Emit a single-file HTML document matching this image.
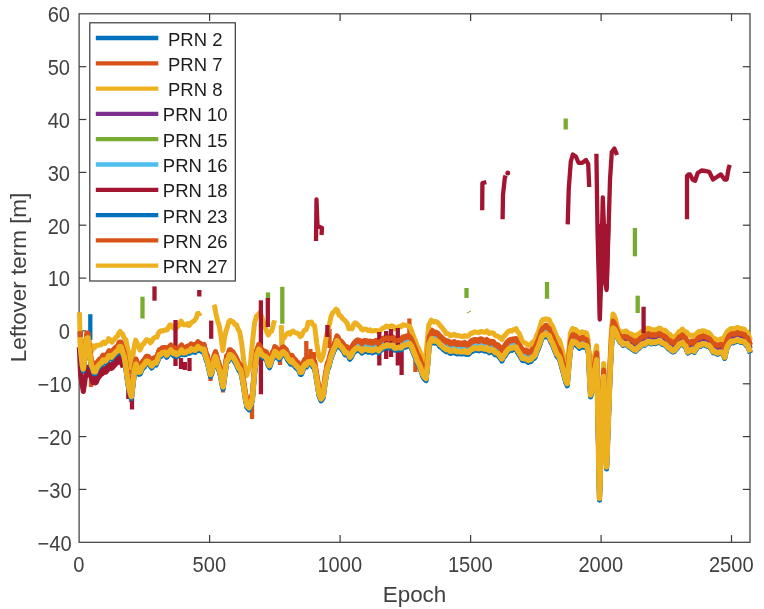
<!DOCTYPE html>
<html lang="en"><head><meta charset="utf-8"><title>Leftover term</title>
<style>html,body{margin:0;padding:0;background:#fff;}svg{display:block;}</style></head>
<body>
<svg width="764" height="609" viewBox="0 0 764 609" font-family="'Liberation Sans', Arial, Helvetica, sans-serif" fill="#404040">
<rect width="764" height="609" fill="#fff"/>
<rect x="79.1" y="13.8" width="670.9" height="528.5" fill="#fff" stroke="none"/>
<g stroke="#3a3a3a" stroke-width="1.2" fill="none"><rect x="79.1" y="13.8" width="670.9" height="528.5"/><line x1="209.6" y1="542.3" x2="209.6" y2="535.0999999999999"/><line x1="209.6" y1="13.8" x2="209.6" y2="21.0"/><line x1="340.1" y1="542.3" x2="340.1" y2="535.0999999999999"/><line x1="340.1" y1="13.8" x2="340.1" y2="21.0"/><line x1="470.6" y1="542.3" x2="470.6" y2="535.0999999999999"/><line x1="470.6" y1="13.8" x2="470.6" y2="21.0"/><line x1="601.1" y1="542.3" x2="601.1" y2="535.0999999999999"/><line x1="601.1" y1="13.8" x2="601.1" y2="21.0"/><line x1="731.5" y1="542.3" x2="731.5" y2="535.0999999999999"/><line x1="731.5" y1="13.8" x2="731.5" y2="21.0"/><line x1="79.1" y1="489.4" x2="86.3" y2="489.4"/><line x1="750.0" y1="489.4" x2="742.8" y2="489.4"/><line x1="79.1" y1="436.6" x2="86.3" y2="436.6"/><line x1="750.0" y1="436.6" x2="742.8" y2="436.6"/><line x1="79.1" y1="383.8" x2="86.3" y2="383.8"/><line x1="750.0" y1="383.8" x2="742.8" y2="383.8"/><line x1="79.1" y1="330.9" x2="86.3" y2="330.9"/><line x1="750.0" y1="330.9" x2="742.8" y2="330.9"/><line x1="79.1" y1="278.1" x2="86.3" y2="278.1"/><line x1="750.0" y1="278.1" x2="742.8" y2="278.1"/><line x1="79.1" y1="225.2" x2="86.3" y2="225.2"/><line x1="750.0" y1="225.2" x2="742.8" y2="225.2"/><line x1="79.1" y1="172.4" x2="86.3" y2="172.4"/><line x1="750.0" y1="172.4" x2="742.8" y2="172.4"/><line x1="79.1" y1="119.5" x2="86.3" y2="119.5"/><line x1="750.0" y1="119.5" x2="742.8" y2="119.5"/><line x1="79.1" y1="66.7" x2="86.3" y2="66.7"/><line x1="750.0" y1="66.7" x2="742.8" y2="66.7"/></g>
<g>
<polyline points="80.3,332.2 80.8,352.2 82.4,366.5 83.2,370.4 85.2,355.7 86.8,340.0 87.8,339.4 89.8,356.0 91.4,366.9 92.7,369.1 93.9,373.1 95.3,373.2 96.6,369.6 98.0,367.7 99.2,366.0 100.5,365.0 101.7,364.2 102.9,361.6 104.1,362.0 105.3,362.5 106.6,360.8 107.8,359.4 109.0,357.2 110.3,357.4 111.5,358.5 112.8,356.8 114.0,355.6 115.2,354.2 116.5,353.0 117.7,352.6 119.3,348.4 121.0,348.4 122.7,353.8 124.3,358.4 125.5,365.5 126.7,374.9 127.9,383.7 129.2,390.3 130.3,394.3 131.4,398.0 133.0,384.8 134.6,371.3 136.0,365.5 137.4,369.8 138.9,373.7 140.2,373.3 141.6,369.8 142.9,367.4 144.2,366.6 145.3,364.3 146.4,362.7 148.0,362.7 149.6,364.5 151.7,367.4 153.1,365.2 154.6,364.1 156.0,364.5 157.6,360.9 159.2,356.3 160.8,356.0 162.4,354.2 163.8,353.9 165.3,353.9 166.7,356.6 168.1,354.6 169.5,353.0 170.9,351.5 172.2,353.5 173.6,355.0 175.0,354.4 176.3,356.1 177.6,355.5 178.9,354.9 180.3,353.0 181.6,351.5 182.9,354.1 184.3,354.1 185.7,354.0 187.0,352.9 188.4,352.3 189.8,352.5 191.2,350.3 192.5,351.2 193.9,351.3 195.2,351.7 196.6,349.9 198.0,348.2 199.5,350.0 200.9,350.1 202.4,351.3 204.0,350.8 205.1,355.5 206.2,359.5 207.3,361.9 208.9,369.0 210.5,376.0 211.8,373.4 213.0,367.8 214.2,361.5 215.5,358.0 216.8,362.3 218.0,367.3 219.3,371.1 220.6,375.9 221.8,383.3 223.1,388.4 224.3,379.1 225.5,370.6 226.7,362.2 228.1,361.0 229.5,356.3 230.7,356.2 231.8,357.6 233.0,358.4 234.2,360.5 235.8,363.1 237.4,366.5 239.0,370.0 240.6,371.2 242.2,378.6 243.8,388.2 245.4,399.2 247.0,406.9 249.2,409.2 250.8,405.7 252.4,399.9 254.5,373.6 256.7,357.0 258.8,350.8 260.2,352.9 261.6,356.0 263.0,356.8 264.1,357.8 265.2,357.8 266.3,358.6 267.9,364.1 269.5,367.1 270.9,363.2 272.3,358.7 273.6,357.1 274.8,353.1 276.2,353.9 277.7,357.3 279.1,358.7 280.5,357.0 282.0,354.0 283.4,353.3 284.8,354.8 286.2,356.0 287.6,359.3 289.1,361.2 290.5,363.3 292.0,362.0 293.4,364.4 294.8,365.7 296.2,367.4 297.5,368.4 298.9,370.1 300.2,373.7 301.5,373.7 302.7,370.4 303.8,367.7 305.0,365.6 306.6,366.4 308.2,363.4 309.8,363.8 311.4,363.0 313.0,366.4 314.6,367.9 316.8,381.4 318.9,394.6 321.0,400.3 323.2,397.3 325.3,381.5 327.4,369.7 329.0,366.1 330.6,359.4 332.2,355.0 333.8,350.8 335.4,347.6 337.0,342.3 338.1,343.8 339.2,346.4 340.3,347.1 341.9,348.8 343.5,351.1 345.1,354.3 346.7,354.1 348.3,355.4 349.9,358.6 351.5,356.5 353.1,352.8 354.7,351.2 356.3,349.8 357.7,349.5 359.2,350.0 360.6,351.0 361.9,352.5 363.2,351.3 364.4,350.6 365.7,350.7 367.0,350.8 368.3,351.7 369.6,351.0 370.8,351.3 372.1,352.2 373.4,351.7 374.7,351.2 376.0,350.3 377.4,351.3 378.7,352.2 380.0,350.4 381.4,349.5 382.7,348.2 384.0,348.0 385.4,347.5 386.7,346.4 388.0,347.3 389.4,346.9 390.7,347.3 392.0,346.7 393.4,347.3 394.7,349.6 395.8,349.4 396.9,349.3 398.0,349.2 399.2,348.7 400.3,349.2 401.4,349.2 402.8,347.0 404.1,346.9 405.4,346.5 406.8,346.1 408.2,345.5 409.6,345.1 411.0,346.9 412.6,350.6 414.2,354.7 415.6,357.7 417.1,362.3 418.5,364.5 419.9,367.5 421.4,371.5 422.8,375.9 424.4,378.5 426.0,380.0 427.5,367.0 429.2,345.6 430.5,343.2 431.8,340.2 433.1,341.8 434.3,342.5 435.6,342.1 437.0,342.8 438.5,343.9 439.9,346.1 441.4,346.9 443.0,348.7 444.1,349.5 445.2,350.1 446.3,351.1 447.6,350.8 449.0,351.6 450.3,352.8 451.6,352.4 453.0,352.2 454.3,351.6 455.6,352.7 457.0,353.3 458.3,352.7 459.6,353.1 460.8,353.1 462.1,353.4 463.4,353.0 464.7,352.4 466.0,353.6 467.4,353.9 468.7,353.7 470.0,352.1 471.4,350.7 472.7,350.8 474.0,349.5 475.3,349.5 476.6,349.7 477.9,349.9 479.2,350.2 480.5,348.9 481.8,349.1 483.1,350.0 484.3,350.4 485.6,350.6 486.9,349.5 488.1,350.7 489.3,352.1 490.7,351.4 492.1,351.6 493.5,351.6 494.9,353.9 496.4,354.4 497.8,354.7 499.2,356.5 500.6,358.3 502.0,360.3 503.5,357.1 504.9,355.5 506.4,353.0 507.7,351.5 509.0,350.2 510.4,349.4 511.7,349.7 513.1,349.0 514.6,348.7 516.0,348.5 517.6,351.9 519.2,354.2 520.8,356.9 522.4,359.8 523.8,360.1 525.3,360.1 526.7,360.5 528.1,361.8 529.6,361.2 531.0,360.8 532.4,358.8 533.8,358.0 535.2,356.5 536.8,351.7 538.4,348.1 540.0,343.9 541.6,338.8 543.0,336.6 544.5,336.4 545.9,335.1 547.5,336.4 549.1,337.0 550.7,341.5 552.3,344.1 553.9,348.1 555.5,352.1 556.9,355.6 558.4,357.2 559.8,359.7 561.4,365.6 563.0,371.3 564.4,376.6 565.8,382.0 567.3,385.1 568.8,366.8 570.5,349.5 572.6,342.9 574.2,344.0 575.8,343.9 577.0,345.3 578.1,346.2 579.3,347.7 580.7,346.8 582.1,346.1 583.5,346.6 585.1,346.9 586.8,347.4 588.5,353.0 589.5,377.0 590.6,396.4 592.5,389.3 594.5,373.1 595.6,367.5 596.7,361.4 597.8,410.7 599.5,499.6 600.8,457.3 602.5,402.0 603.7,378.1 605.0,426.0 606.6,468.4 608.0,431.2 610.0,376.4 611.5,346.5 613.0,329.6 614.2,330.1 615.5,332.4 616.7,334.7 618.3,338.9 619.9,341.9 621.5,343.0 623.0,345.0 624.5,344.4 625.9,344.6 627.4,344.6 628.8,346.9 630.2,347.2 631.6,348.5 633.0,349.4 634.5,350.6 635.9,350.9 637.2,348.9 638.5,348.4 639.9,347.0 641.2,345.7 642.5,344.8 643.8,344.3 645.0,344.9 646.3,343.6 647.6,342.3 648.9,342.3 650.2,342.6 651.4,343.6 652.7,343.1 654.0,342.9 655.3,343.3 656.6,342.7 657.9,342.4 659.2,341.4 660.5,341.8 661.8,343.8 663.0,344.1 664.3,344.7 665.7,345.3 667.1,347.1 668.5,348.6 669.9,349.0 671.4,350.8 672.8,351.7 674.4,351.0 676.0,349.0 677.6,347.5 679.2,345.0 680.8,344.5 682.4,343.3 684.0,345.9 685.6,346.8 687.8,352.7 689.4,351.9 691.0,350.7 692.6,350.2 694.2,352.1 695.8,349.6 697.4,347.2 698.8,345.9 700.3,346.1 701.7,344.9 703.0,344.5 704.4,344.7 705.7,345.1 707.0,345.9 708.6,346.0 710.2,347.7 711.8,349.8 713.4,352.5 714.8,352.2 716.1,353.1 717.4,353.9 718.8,353.4 720.2,353.1 721.6,353.0 723.0,354.3 724.7,358.0 726.7,349.0 728.0,346.0 729.4,343.8 730.8,342.5 732.1,342.0 733.4,342.5 734.8,341.6 736.1,341.3 737.4,340.4 738.7,341.0 740.0,341.9 741.5,341.7 742.9,342.3 744.4,342.5 746.0,345.0 747.6,345.9 749.0,349.5 750.4,352.9" fill="none" stroke="#0072BD" stroke-width="5.0" stroke-linejoin="round" stroke-linecap="butt" />
<polyline points="90.3,314.2 90.3,340.0" fill="none" stroke="#0072BD" stroke-width="4.3" stroke-linejoin="round" stroke-linecap="butt" />
<polyline points="80.3,331.2 80.8,346.2 82.4,360.5 83.2,364.4 85.2,349.7 86.8,334.0 87.8,333.4 89.8,350.0 91.4,360.9 92.7,363.1 93.9,367.1 95.3,367.2 96.6,363.6 98.0,361.7 99.2,360.0 100.5,359.0 101.7,358.2 102.9,355.6 104.1,356.0 105.3,356.5 106.6,354.8 107.8,353.4 109.0,351.2 110.3,351.4 111.5,352.5 112.8,350.8 114.0,349.6 115.2,348.2 116.5,347.0 117.7,346.6 119.3,342.4 121.0,342.4 122.7,347.8 124.3,352.4 125.5,359.5 126.7,368.9 127.9,377.7 129.2,384.3 130.3,388.3 131.4,392.0 133.0,378.8 134.6,365.3 136.0,359.5 137.4,363.8 138.9,367.7 140.2,367.3 141.6,363.8 142.9,361.4 144.2,360.6 145.3,358.3 146.4,356.7 148.0,356.7 149.6,358.5 151.7,361.4 153.1,359.2 154.6,358.1 156.0,358.5 157.6,354.9 159.2,350.3 160.8,350.0 162.4,348.2 163.8,347.9 165.3,347.9 166.7,350.6 168.1,348.6 169.5,347.0 170.9,345.5 172.2,347.5 173.6,349.0 175.0,348.4 176.3,350.1 177.6,349.5 178.9,348.9 180.3,347.0 181.6,345.5 182.9,348.1 184.3,348.1 185.7,348.0 187.0,346.9 188.4,346.3 189.8,346.5 191.2,344.3 192.5,345.2 193.9,345.3 195.2,345.7 196.6,343.9 198.0,342.2 199.5,344.0 200.9,344.1 202.4,345.3 204.0,344.8 205.1,349.5 206.2,353.5 207.3,355.9 208.9,363.0 210.5,370.0 211.8,367.4 213.0,361.8 214.2,355.5 215.5,352.0 216.8,356.3 218.0,361.3 219.3,365.1 220.6,369.9 221.8,377.3 223.1,382.4 224.3,373.1 225.5,364.6 226.7,356.2 228.1,355.0 229.5,350.3 230.7,350.2 231.8,351.6 233.0,352.4 234.2,354.5 235.8,357.1 237.4,360.5 239.0,364.0 240.6,365.2 242.2,372.6 243.8,382.2 245.4,393.2 247.0,400.9 249.2,403.2 250.8,399.7 252.4,393.9 254.5,367.6 256.7,351.0 258.8,344.8 260.2,346.9 261.6,350.0 263.0,350.8 264.1,351.8 265.2,351.8 266.3,352.6 267.9,358.1 269.5,361.1 270.9,357.2 272.3,352.7 273.6,351.1 274.8,347.1 276.2,347.9 277.7,351.3 279.1,352.7 280.5,351.0 282.0,348.0 283.4,347.3 284.8,348.8 286.2,350.0 287.6,353.3 289.1,355.2 290.5,357.3 292.0,356.0 293.4,358.4 294.8,359.7 296.2,361.4 297.5,362.4 298.9,364.1 300.2,367.7 301.5,367.7 302.7,364.4 303.8,361.7 305.0,359.6 306.6,360.4 308.2,357.4 309.8,357.8 311.4,357.0 313.0,360.4 314.6,361.9 316.8,375.4 318.9,388.6 321.0,394.3 323.2,391.3 325.3,375.5 327.4,363.7 329.0,360.1 330.6,353.4 332.2,349.0 333.8,344.8 335.4,341.6 337.0,336.3 338.1,337.7 339.2,340.4 340.3,341.0 341.9,342.4 343.5,344.3 345.1,347.3 346.7,346.7 348.3,347.7 349.9,350.6 351.5,348.1 353.1,344.2 354.7,342.2 356.3,340.5 357.7,339.9 359.2,340.2 360.6,340.9 361.9,342.4 363.2,341.2 364.4,340.5 365.7,340.6 367.0,340.7 368.3,341.6 369.6,340.9 370.8,341.2 372.1,342.1 373.4,341.6 374.7,341.1 376.0,340.2 377.4,341.2 378.7,342.1 380.0,340.3 381.4,339.4 382.7,338.1 384.0,337.9 385.4,337.4 386.7,336.3 388.0,337.2 389.4,336.8 390.7,337.2 392.0,336.6 393.4,337.2 394.7,339.5 395.8,339.3 396.9,339.2 398.0,339.1 399.2,338.6 400.3,339.1 401.4,339.1 402.8,336.9 404.1,336.8 405.4,336.4 406.8,336.0 408.2,335.4 409.6,335.0 411.0,336.8 412.6,340.5 414.2,344.6 415.6,347.6 417.1,352.2 418.5,354.4 419.9,357.5 421.4,361.5 422.8,366.0 424.4,368.5 426.0,369.9 427.5,356.9 429.2,335.5 430.5,333.1 431.8,330.1 433.1,331.7 434.3,332.4 435.6,332.0 437.0,332.7 438.5,333.8 439.9,336.0 441.4,336.8 443.0,338.6 444.1,339.4 445.2,340.0 446.3,341.0 447.6,340.7 449.0,341.5 450.3,342.7 451.6,342.3 453.0,342.1 454.3,341.5 455.6,342.6 457.0,343.2 458.3,342.6 459.6,343.0 460.8,343.0 462.1,343.3 463.4,342.9 464.7,342.3 466.0,343.5 467.4,343.8 468.7,343.6 470.0,342.0 471.4,340.6 472.7,340.7 474.0,339.4 475.3,339.4 476.6,339.6 477.9,339.8 479.2,340.1 480.5,338.8 481.8,339.0 483.1,339.9 484.3,340.3 485.6,340.5 486.9,339.4 488.1,340.6 489.3,342.0 490.7,341.3 492.1,341.5 493.5,341.5 494.9,343.8 496.4,344.3 497.8,344.6 499.2,346.4 500.6,348.2 502.0,350.2 503.5,347.0 504.9,345.4 506.4,342.9 507.7,341.4 509.0,340.1 510.4,339.3 511.7,339.6 513.1,338.9 514.6,338.6 516.0,338.4 517.6,341.8 519.2,344.1 520.8,346.8 522.4,349.7 523.8,350.0 525.3,350.0 526.7,350.4 528.1,351.7 529.6,351.1 531.0,350.7 532.4,348.7 533.8,347.9 535.2,346.4 536.8,341.6 538.4,338.0 540.0,333.8 541.6,328.7 543.0,326.5 544.5,326.3 545.9,325.0 547.5,326.3 549.1,326.9 550.7,331.4 552.3,334.0 553.9,338.0 555.5,342.0 556.9,345.5 558.4,347.1 559.8,349.6 561.4,355.5 563.0,361.2 564.4,366.9 565.8,372.7 567.3,375.0 568.8,356.7 570.5,339.4 572.6,333.6 574.2,334.8 575.8,334.7 577.0,336.1 578.1,337.0 579.3,338.5 580.7,337.6 582.1,336.9 583.5,337.5 585.1,337.9 586.8,338.5 588.5,348.7 589.5,367.7 590.6,388.6 592.5,379.2 594.5,363.0 595.6,357.5 596.7,351.5 597.8,403.2 599.5,491.2 600.8,447.2 602.5,391.9 603.7,368.8 605.0,415.9 606.6,460.6 608.0,421.1 610.0,366.3 611.5,336.4 613.0,319.7 614.2,321.3 615.5,324.7 616.7,328.2 618.3,332.3 619.9,335.1 621.5,335.4 623.0,336.6 624.5,336.1 625.9,336.3 627.4,336.3 628.8,338.3 630.2,338.2 631.6,339.1 633.0,340.0 634.5,341.2 635.9,341.5 637.2,339.6 638.5,339.3 639.9,338.0 641.2,336.8 642.5,335.9 643.8,335.3 645.0,335.8 646.3,334.5 647.6,333.1 648.9,333.3 650.2,333.6 651.4,334.8 652.7,334.3 654.0,334.2 655.3,334.7 656.6,334.0 657.9,333.7 659.2,332.8 660.5,333.2 661.8,334.9 663.0,334.9 664.3,335.3 665.7,335.9 667.1,337.7 668.5,339.2 669.9,339.6 671.4,341.4 672.8,342.3 674.4,341.8 676.0,340.1 677.6,338.6 679.2,336.2 680.8,335.5 682.4,334.1 684.0,336.5 685.6,337.4 687.8,343.3 689.4,342.5 691.0,341.3 692.6,340.8 694.2,342.7 695.8,340.2 697.4,337.8 698.8,336.6 700.3,336.9 701.7,335.8 703.0,335.5 704.4,335.8 705.7,336.3 707.0,337.1 708.6,337.2 710.2,338.8 711.8,340.9 713.4,343.6 714.8,343.3 716.1,344.3 717.4,345.0 718.8,344.5 720.2,344.1 721.6,343.8 723.0,344.9 724.7,348.6 726.7,339.6 728.0,336.7 729.4,334.5 730.8,333.5 732.1,333.1 733.4,333.8 734.8,333.0 736.1,332.8 737.4,331.9 738.7,332.4 740.0,333.3 741.5,333.2 742.9,333.7 744.4,333.9 746.0,336.3 747.6,337.1 749.0,340.9 750.4,344.7" fill="none" stroke="#D95319" stroke-width="5.0" stroke-linejoin="round" stroke-linecap="butt" />
<polyline points="91.0,379.0 91.0,387.0" fill="none" stroke="#D95319" stroke-width="4.3" stroke-linejoin="round" stroke-linecap="butt" />
<polyline points="223.0,386.0 223.0,392.5" fill="none" stroke="#D95319" stroke-width="4.3" stroke-linejoin="round" stroke-linecap="butt" />
<polyline points="252.0,404.0 252.0,419.0" fill="none" stroke="#D95319" stroke-width="4.3" stroke-linejoin="round" stroke-linecap="butt" />
<polyline points="210.5,370.0 210.5,381.0" fill="none" stroke="#D95319" stroke-width="4.3" stroke-linejoin="round" stroke-linecap="butt" />
<polyline points="131.0,390.0 131.0,402.0" fill="none" stroke="#D95319" stroke-width="4.3" stroke-linejoin="round" stroke-linecap="butt" />
<polyline points="306.3,341.0 306.3,362.0" fill="none" stroke="#D95319" stroke-width="4.3" stroke-linejoin="round" stroke-linecap="butt" />
<polyline points="310.4,349.0 310.4,364.0" fill="none" stroke="#D95319" stroke-width="4.3" stroke-linejoin="round" stroke-linecap="butt" />
<polyline points="314.0,352.0 314.0,368.0" fill="none" stroke="#D95319" stroke-width="4.3" stroke-linejoin="round" stroke-linecap="butt" />
<polyline points="329.5,329.0 329.5,348.0" fill="none" stroke="#D95319" stroke-width="4.3" stroke-linejoin="round" stroke-linecap="butt" />
<polyline points="409.4,318.5 409.4,336.0" fill="none" stroke="#D95319" stroke-width="4.3" stroke-linejoin="round" stroke-linecap="butt" />
<polyline points="415.4,360.0 415.4,372.0" fill="none" stroke="#D95319" stroke-width="4.3" stroke-linejoin="round" stroke-linecap="butt" />
<polyline points="280.0,355.0 280.0,365.0" fill="none" stroke="#D95319" stroke-width="4.3" stroke-linejoin="round" stroke-linecap="butt" />
<polyline points="79.5,312.2 80.2,344.3 81.3,352.4 82.4,361.3 83.2,365.1 85.2,350.2 86.8,335.1 87.8,335.4 89.8,348.5 91.4,351.7 93.0,345.9 94.7,347.5 96.3,345.4 97.9,345.2 99.6,345.1 101.0,344.9 102.3,343.1 103.7,342.1 105.0,343.4 106.2,342.2 107.5,340.9 108.7,338.7 110.3,339.9 112.0,342.2 113.3,340.0 114.7,339.0 116.0,337.2 117.4,336.4 118.8,333.1 120.2,331.5 121.4,333.4 122.6,333.8 123.7,337.0 124.8,338.6 125.9,339.8 127.5,348.3 129.2,354.3 130.3,363.3 131.4,372.0 133.5,350.7 135.7,340.1 137.1,343.1 138.6,346.3 140.0,350.0 141.3,347.4 142.6,344.3 143.8,343.9 145.1,341.6 146.4,339.8 147.7,340.0 149.1,340.7 150.4,342.9 151.7,341.4 153.0,339.0 154.3,337.6 155.7,337.3 157.0,337.1 158.1,333.9 159.2,332.0 160.3,331.1 161.7,330.7 163.1,331.0 164.5,330.0 165.8,330.1 167.2,329.9 168.6,326.9 169.9,325.0 171.2,324.9 172.6,327.3 173.9,328.1 175.2,327.8 176.4,327.9 177.5,326.7 178.7,325.6 179.8,323.9 181.0,321.0 182.2,322.7 183.4,324.8 184.7,324.7 185.9,324.9 187.5,323.6 189.1,325.6 190.5,323.5 192.0,322.1 193.4,321.5 194.8,320.2 196.2,318.0 197.6,313.6 198.7,313.5 199.8,313.6 200.9,312.7" fill="none" stroke="#EDB120" stroke-width="5.0" stroke-linejoin="round" stroke-linecap="butt" />
<polyline points="213.7,304.9 214.7,306.7 215.8,312.7 216.9,318.0 218.1,322.6 219.3,325.9 221.0,336.6 222.8,350.4 224.6,337.4 226.0,331.1 227.5,326.5 228.9,321.6 230.3,320.4 231.8,321.4 233.2,321.9 234.8,324.6 236.4,324.7 238.0,329.2 239.6,331.7 241.7,343.4 243.8,361.1 245.2,370.0 246.6,375.5 247.8,372.2 249.1,368.2 250.3,365.4 252.4,342.7 254.5,322.9 256.7,315.7 258.1,314.6 259.6,312.8 261.0,314.9 262.4,319.0 263.8,323.4 265.2,327.0 266.8,331.9 268.4,335.0 270.0,331.8 271.6,331.2 273.0,326.3 274.4,320.3" fill="none" stroke="#EDB120" stroke-width="5.0" stroke-linejoin="round" stroke-linecap="butt" />
<polyline points="281.3,325.1 281.8,346.8 282.6,337.3 284.1,338.1 285.5,335.3 287.1,333.7 288.7,332.8 290.1,334.1 291.6,331.7 293.0,331.1 294.4,332.4 295.9,332.9 297.3,333.4 298.7,333.8 300.1,336.6 301.5,335.8 302.9,332.8 304.4,330.3 305.8,330.1 307.0,327.4 308.2,322.3 309.8,322.8 311.4,322.0 313.0,324.9 314.6,325.8 316.8,343.6 318.9,357.1 321.0,360.4 322.4,357.3 323.8,352.5 325.1,343.6 326.4,336.2 328.0,329.9 329.6,323.5 331.2,315.8 332.8,312.7 334.4,311.2 336.0,309.2 337.6,310.5 339.2,315.4 340.8,315.9 342.4,318.4 344.0,319.5 345.6,321.4 347.2,323.3 348.8,328.7 350.4,328.7 352.0,328.7 353.6,324.7 355.2,322.8 356.8,323.9 358.4,325.4 359.8,326.5 361.3,329.0 362.7,330.0 364.0,328.9 365.2,329.3 366.5,329.4 367.7,330.4 369.0,330.4 370.3,329.8 371.6,331.0 372.9,330.9 374.2,330.6 375.5,330.4 376.9,330.4 378.4,331.9 379.8,330.7 381.1,329.6 382.4,328.4 383.7,327.8 385.0,327.3 386.1,326.1 387.2,326.2 388.3,326.9 389.4,326.4 390.5,326.1 391.9,325.8 393.3,326.3 394.7,328.8 395.8,328.3 396.9,327.9 398.0,327.4 399.2,326.5 400.3,326.8 401.4,326.4 402.8,324.7 404.1,325.2 405.4,325.3 406.8,325.5 408.2,325.9 409.6,326.4 411.0,329.2 412.6,333.6 414.2,338.3 415.6,341.3 417.1,345.9 418.5,348.1 419.9,351.4 421.4,355.7 422.8,360.4 425.0,363.9 427.0,343.8 428.8,324.8 430.1,322.9 431.3,320.1 432.7,321.2 434.2,322.1 435.6,321.4 437.0,322.2 438.5,323.2 439.9,325.5 441.4,326.7 443.0,328.9 444.1,330.4 445.2,331.8 446.3,333.6 447.6,333.4 449.0,334.3 450.3,335.7 451.6,335.4 453.0,335.0 454.3,334.3 455.6,335.3 457.0,335.8 458.3,335.4 459.6,336.0 460.8,336.2 462.1,336.7 463.4,336.5 464.7,335.5 466.0,336.3 467.4,336.2 468.7,335.6 470.0,334.1 471.4,332.9 472.7,333.2 474.0,332.0 475.3,332.0 476.6,332.2 477.9,332.4 479.2,332.7 480.5,331.4 481.8,331.4 483.1,332.0 484.3,332.2 485.6,332.2 486.9,330.9 488.1,332.1 489.3,333.5 490.7,332.8 492.1,333.0 493.5,333.0 494.9,335.3 496.4,335.8 497.8,336.1 499.2,337.2 500.6,338.3 502.0,339.6 503.5,336.7 504.9,335.5 506.4,333.3 507.7,332.1 509.0,331.0 510.4,330.5 511.7,331.1 513.1,330.0 514.6,329.3 516.0,328.7 517.6,331.7 519.2,333.5 520.8,337.3 522.4,341.3 523.8,342.3 525.3,343.0 526.7,344.2 528.1,345.4 529.6,344.7 531.0,344.3 532.4,342.3 533.8,341.5 535.2,340.0 536.8,335.2 538.4,331.7 540.0,326.9 541.6,321.3 543.0,319.4 544.5,319.6 545.9,318.7 547.5,319.4 549.1,319.4 550.7,323.5 552.3,325.6 553.9,329.5 555.5,333.5 556.9,337.1 558.4,338.7 559.8,341.2 561.4,347.1 563.0,352.7 565.0,365.3 566.8,370.6 568.8,350.3 570.5,333.0 572.6,328.4 574.2,329.6 575.8,329.6 577.0,331.0 578.1,331.9 579.3,333.4 580.7,332.5 582.1,331.8 583.5,332.4 585.1,332.6 586.7,333.2 588.0,339.3 589.5,362.5 590.6,384.4 592.5,371.8 594.5,355.6 595.6,351.0 596.7,345.9 597.8,399.2 599.5,486.6 600.8,440.8 602.5,385.5 603.7,363.6 605.0,409.5 606.6,456.4 608.0,414.7 610.0,359.9 611.5,330.0 613.0,314.1 614.3,315.8 615.6,319.4 617.7,328.7 619.4,330.9 621.0,331.9 622.3,332.3 623.6,331.7 625.0,331.3 626.3,331.0 627.7,332.4 629.2,334.0 630.6,333.7 631.9,334.3 633.2,335.0 634.6,336.1 635.9,336.3 637.2,334.6 638.5,334.3 639.9,333.1 641.2,332.1 642.5,331.1 643.8,330.5 645.0,331.0 646.3,329.6 647.6,328.2 648.9,328.4 650.2,328.8 651.4,330.0 652.7,329.7 654.0,329.7 655.3,330.1 656.6,329.4 657.9,329.1 659.2,328.1 660.5,328.5 661.8,330.1 663.0,329.9 664.3,330.1 665.7,330.7 667.1,332.4 668.5,333.9 669.9,334.3 671.4,336.1 672.8,337.0 674.4,336.8 676.0,335.4 677.6,333.9 679.2,331.5 680.8,330.7 682.4,329.1 683.8,330.9 685.3,331.5 686.7,332.2 688.1,333.8 689.6,335.2 691.0,336.1 692.6,335.0 694.2,336.3 695.8,334.4 697.4,332.6 698.8,331.5 700.3,332.0 701.7,331.0 703.0,330.7 704.4,331.0 705.7,331.5 707.0,332.4 708.6,332.4 710.2,334.1 711.8,336.2 713.4,338.9 714.8,338.6 716.1,339.5 717.4,340.3 718.8,339.8 720.2,339.2 721.6,338.7 723.0,339.7 724.6,336.3 726.2,333.2 727.8,331.0 729.4,329.6 730.8,328.6 732.1,328.4 733.4,329.2 734.8,328.5 736.1,328.2 737.4,327.3 738.7,327.9 740.0,328.8 741.5,328.6 742.9,329.1 744.4,329.3 746.0,331.6 747.6,332.3 749.0,336.4 750.4,340.3" fill="none" stroke="#EDB120" stroke-width="5.0" stroke-linejoin="round" stroke-linecap="butt" />
<polyline points="80.3,332.2 80.8,349.7 82.4,364.0 83.2,367.9 85.2,353.2 86.8,337.5 87.8,336.9 89.8,353.5 91.4,364.4 92.7,366.6 93.9,370.6 95.3,370.7 96.6,367.1 98.0,365.2 99.2,363.5 100.5,362.5 101.7,361.7 102.9,359.1 104.1,359.5 105.3,360.0 106.6,358.3 107.8,356.9 109.0,354.7 110.3,354.9 111.5,356.0 112.8,354.3 114.0,353.1 115.2,351.7 116.5,350.5 117.7,350.1 119.3,345.9 121.0,345.9 122.7,351.3 124.3,355.9 125.5,363.0 126.7,372.4 127.9,381.2 129.2,387.8 130.3,391.8 131.4,395.5 133.0,382.3 134.6,368.8 136.0,363.0 137.4,367.3 138.9,371.2 140.2,370.8 141.6,367.3 142.9,364.9 144.2,364.1 145.3,361.8 146.4,360.2 148.0,360.2 149.6,362.0 151.7,364.9 153.1,362.7 154.6,361.6 156.0,362.0 157.6,358.4 159.2,353.8 160.8,353.5 162.4,351.7 163.8,351.4 165.3,351.4 166.7,354.1 168.1,352.1 169.5,350.5 170.9,349.0 172.2,351.0 173.6,352.5 175.0,351.9 176.3,353.6 177.6,353.0 178.9,352.4 180.3,350.5 181.6,349.0 182.9,351.6 184.3,351.6 185.7,351.5 187.0,350.4 188.4,349.8 189.8,350.0 191.2,347.8 192.5,348.7 193.9,348.8 195.2,349.2 196.6,347.4 198.0,345.7 199.5,347.5 200.9,347.6 202.4,348.8 204.0,348.3 205.1,353.0 206.2,357.0 207.3,359.4 208.9,366.5 210.5,373.5 211.8,370.9 213.0,365.3 214.2,359.0 215.5,355.5 216.8,359.8 218.0,364.8 219.3,368.6 220.6,373.4 221.8,380.8 223.1,385.9 224.3,376.6 225.5,368.1 226.7,359.7 228.1,358.5 229.5,353.8 230.7,353.7 231.8,355.1 233.0,355.9 234.2,358.0 235.8,360.6 237.4,364.0 239.0,367.5 240.6,368.7 242.2,376.1 243.8,385.7 245.4,396.7 247.0,404.4 249.2,406.7 250.8,403.2 252.4,397.4 254.5,371.1 256.7,354.5 258.8,348.3 260.2,350.4 261.6,353.5 263.0,354.3 264.1,355.3 265.2,355.3 266.3,356.1 267.9,361.6 269.5,364.6 270.9,360.7 272.3,356.2 273.6,354.6 274.8,350.6 276.2,351.4 277.7,354.8 279.1,356.2 280.5,354.5 282.0,351.5 283.4,350.8 284.8,352.3 286.2,353.5 287.6,356.8 289.1,358.7 290.5,360.8 292.0,359.5 293.4,361.9 294.8,363.2 296.2,364.9 297.5,365.9 298.9,367.6 300.2,371.2 301.5,371.2 302.7,367.9 303.8,365.2 305.0,363.1 306.6,363.9 308.2,360.9 309.8,361.3 311.4,360.5 313.0,363.9 314.6,365.4 316.8,378.9 318.9,392.1 321.0,397.8 323.2,394.8 325.3,379.0 327.4,367.2 329.0,363.6 330.6,356.9 332.2,352.5 333.8,348.3 335.4,345.1 337.0,339.8 338.1,341.3 339.2,343.9 340.3,344.6 341.9,346.2 343.5,348.4 345.1,351.6 346.7,351.3 348.3,352.6 349.9,355.7 351.5,353.5 353.1,349.8 354.7,348.1 356.3,346.6 357.7,346.2 359.2,346.7 360.6,347.6 361.9,349.1 363.2,347.9 364.4,347.2 365.7,347.3 367.0,347.4 368.3,348.3 369.6,347.6 370.8,347.9 372.1,348.8 373.4,348.3 374.7,347.8 376.0,346.9 377.4,347.9 378.7,348.8 380.0,347.0 381.4,346.1 382.7,344.8 384.0,344.6 385.4,344.1 386.7,343.0 388.0,343.9 389.4,343.5 390.7,343.9 392.0,343.3 393.4,343.9 394.7,346.2 395.8,346.0 396.9,345.9 398.0,345.8 399.2,345.3 400.3,345.8 401.4,345.8 402.8,343.6 404.1,343.5 405.4,343.1 406.8,342.7 408.2,342.1 409.6,341.7 411.0,343.5 412.6,347.2 414.2,351.3 415.6,354.3 417.1,358.9 418.5,361.1 419.9,364.1 421.4,368.1 422.8,372.5 424.4,375.1 426.0,376.6 427.5,363.6 429.2,342.2 430.5,339.8 431.8,336.8 433.1,338.4 434.3,339.1 435.6,338.7 437.0,339.4 438.5,340.5 439.9,342.7 441.4,343.5 443.0,345.3 444.1,346.1 445.2,346.7 446.3,347.7 447.6,347.4 449.0,348.2 450.3,349.4 451.6,349.0 453.0,348.8 454.3,348.2 455.6,349.3 457.0,349.9 458.3,349.3 459.6,349.7 460.8,349.7 462.1,350.0 463.4,349.6 464.7,349.0 466.0,350.2 467.4,350.5 468.7,350.3 470.0,348.7 471.4,347.3 472.7,347.4 474.0,346.1 475.3,346.1 476.6,346.3 477.9,346.5 479.2,346.8 480.5,345.5 481.8,345.7 483.1,346.6 484.3,347.0 485.6,347.2 486.9,346.1 488.1,347.3 489.3,348.7 490.7,348.0 492.1,348.2 493.5,348.2 494.9,350.5 496.4,351.0 497.8,351.3 499.2,353.1 500.6,354.9 502.0,356.9 503.5,353.7 504.9,352.1 506.4,349.6 507.7,348.1 509.0,346.8 510.4,346.0 511.7,346.3 513.1,345.6 514.6,345.3 516.0,345.1 517.6,348.5 519.2,350.8 520.8,353.5 522.4,356.4 523.8,356.7 525.3,356.7 526.7,357.1 528.1,358.4 529.6,357.8 531.0,357.4 532.4,355.4 533.8,354.6 535.2,353.1 536.8,348.3 538.4,344.7 540.0,340.5 541.6,335.4 543.0,333.2 544.5,333.0 545.9,331.7 547.5,333.0 549.1,333.6 550.7,338.1 552.3,340.7 553.9,344.7 555.5,348.7 556.9,352.2 558.4,353.8 559.8,356.3 561.4,362.2 563.0,367.9 564.4,373.2 565.8,378.6 567.3,381.7 568.8,363.4 570.5,346.1 572.6,339.5 574.2,340.6 575.8,340.5 577.0,341.9 578.1,342.8 579.3,344.3 580.7,343.4 582.1,342.7 583.5,343.2 585.1,343.5 586.8,344.0 588.5,350.1 589.5,373.6 590.6,393.0 592.5,385.9 594.5,369.7 595.6,364.1 596.7,358.0 597.8,407.3 599.5,496.2 600.8,453.9 602.5,398.6 603.7,374.7 605.0,422.6 606.6,465.0 608.0,427.8 610.0,373.0 611.5,343.1 613.0,326.2 614.2,326.9 615.5,329.4 616.7,332.0 618.3,336.2 619.9,339.2 621.5,339.4 623.0,340.6 624.5,340.0 625.9,340.2 627.4,340.3 628.8,342.5 630.2,342.7 631.6,343.8 633.0,344.7 634.5,345.9 635.9,346.2 637.2,344.2 638.5,343.8 639.9,342.3 641.2,341.0 642.5,340.2 643.8,339.6 645.0,340.2 646.3,338.9 647.6,337.6 648.9,337.7 650.2,338.0 651.4,339.0 652.7,338.5 654.0,338.3 655.3,338.8 656.6,338.1 657.9,337.8 659.2,336.9 660.5,337.3 661.8,339.2 663.0,339.5 664.3,340.0 665.7,340.6 667.1,342.4 668.5,343.9 669.9,344.3 671.4,346.1 672.8,347.0 674.4,346.3 676.0,344.3 677.6,342.8 679.2,340.4 680.8,339.9 682.4,338.6 684.0,341.2 685.6,342.1 687.8,348.0 689.4,347.2 691.0,346.0 692.6,345.5 694.2,347.4 695.8,344.9 697.4,342.5 698.8,341.2 700.3,341.4 701.7,340.2 703.0,339.8 704.4,340.0 705.7,340.5 707.0,341.3 708.6,341.4 710.2,343.0 711.8,345.1 713.4,347.9 714.8,347.5 716.1,348.5 717.4,349.2 718.8,348.7 720.2,348.5 721.6,348.3 723.0,349.6 724.7,353.3 726.7,344.3 728.0,341.3 729.4,339.1 730.8,337.9 732.1,337.4 733.4,338.0 734.8,337.1 736.1,336.8 737.4,336.0 738.7,336.5 740.0,337.4 741.5,337.2 742.9,337.8 744.4,337.9 746.0,340.4 747.6,341.3 749.0,345.0 750.4,348.5" fill="none" stroke="#7E2F8E" stroke-width="5.0" stroke-linejoin="round" stroke-linecap="butt" />
<polyline points="142.5,296.7 142.5,318.5" fill="none" stroke="#77AC30" stroke-width="4.3" stroke-linejoin="round" stroke-linecap="butt" />
<polyline points="268.0,292.4 268.0,300.0" fill="none" stroke="#77AC30" stroke-width="4.3" stroke-linejoin="round" stroke-linecap="butt" />
<polyline points="282.3,286.8 282.3,323.8" fill="none" stroke="#77AC30" stroke-width="4.3" stroke-linejoin="round" stroke-linecap="butt" />
<polyline points="466.5,288.0 466.5,298.0" fill="none" stroke="#77AC30" stroke-width="4.3" stroke-linejoin="round" stroke-linecap="butt" />
<polyline points="547.0,282.0 547.0,298.8" fill="none" stroke="#77AC30" stroke-width="4.3" stroke-linejoin="round" stroke-linecap="butt" />
<polyline points="565.7,118.5 565.7,129.5" fill="none" stroke="#77AC30" stroke-width="4.3" stroke-linejoin="round" stroke-linecap="butt" />
<polyline points="634.9,228.0 634.9,256.3" fill="none" stroke="#77AC30" stroke-width="4.3" stroke-linejoin="round" stroke-linecap="butt" />
<polyline points="637.7,295.7 637.7,313.0" fill="none" stroke="#77AC30" stroke-width="4.3" stroke-linejoin="round" stroke-linecap="butt" />
<polyline points="467.0,313.0 471.0,311.0" fill="none" stroke="#77AC30" stroke-width="1" stroke-linejoin="round" stroke-linecap="butt" />
<polyline points="80.3,332.2 80.8,350.2 82.4,364.5 83.2,368.4 85.2,353.7 86.8,338.0 87.8,337.4 89.8,354.0 91.4,364.9 92.7,367.1 93.9,371.1 95.3,371.2 96.6,367.6 98.0,365.7 99.2,364.0 100.5,363.0 101.7,362.2 102.9,359.6 104.1,360.0 105.3,360.5 106.6,358.8 107.8,357.4 109.0,355.2 110.3,355.4 111.5,356.5 112.8,354.8 114.0,353.6 115.2,352.2 116.5,351.0 117.7,350.6 119.3,346.4 121.0,346.4 122.7,351.8 124.3,356.4 125.5,363.5 126.7,372.9 127.9,381.7 129.2,388.3 130.3,392.3 131.4,396.0 133.0,382.8 134.6,369.3 136.0,363.5 137.4,367.8 138.9,371.7 140.2,371.3 141.6,367.8 142.9,365.4 144.2,364.6 145.3,362.3 146.4,360.7 148.0,360.7 149.6,362.5 151.7,365.4 153.1,363.2 154.6,362.1 156.0,362.5 157.6,358.9 159.2,354.3 160.8,354.0 162.4,352.2 163.8,351.9 165.3,351.9 166.7,354.6 168.1,352.6 169.5,351.0 170.9,349.5 172.2,351.5 173.6,353.0 175.0,352.4 176.3,354.1 177.6,353.5 178.9,352.9 180.3,351.0 181.6,349.5 182.9,352.1 184.3,352.1 185.7,352.0 187.0,350.9 188.4,350.3 189.8,350.5 191.2,348.3 192.5,349.2 193.9,349.3 195.2,349.7 196.6,347.9 198.0,346.2 199.5,348.0 200.9,348.1 202.4,349.3 204.0,348.8 205.1,353.5 206.2,357.5 207.3,359.9 208.9,367.0 210.5,374.0 211.8,371.4 213.0,365.8 214.2,359.5 215.5,356.0 216.8,360.3 218.0,365.3 219.3,369.1 220.6,373.9 221.8,381.3 223.1,386.4 224.3,377.1 225.5,368.6 226.7,360.2 228.1,359.0 229.5,354.3 230.7,354.2 231.8,355.6 233.0,356.4 234.2,358.5 235.8,361.1 237.4,364.5 239.0,368.0 240.6,369.2 242.2,376.6 243.8,386.2 245.4,397.2 247.0,404.9 249.2,407.2 250.8,403.7 252.4,397.9 254.5,371.6 256.7,355.0 258.8,348.8 260.2,350.9 261.6,354.0 263.0,354.8 264.1,355.8 265.2,355.8 266.3,356.6 267.9,362.1 269.5,365.1 270.9,361.2 272.3,356.7 273.6,355.1 274.8,351.1 276.2,351.9 277.7,355.3 279.1,356.7 280.5,355.0 282.0,352.0 283.4,351.3 284.8,352.8 286.2,354.0 287.6,357.3 289.1,359.2 290.5,361.3 292.0,360.0 293.4,362.4 294.8,363.7 296.2,365.4 297.5,366.4 298.9,368.1 300.2,371.7 301.5,371.7 302.7,368.4 303.8,365.7 305.0,363.6 306.6,364.4 308.2,361.4 309.8,361.8 311.4,361.0 313.0,364.4 314.6,365.9 316.8,379.4 318.9,392.6 321.0,398.3 323.2,395.3 325.3,379.5 327.4,367.7 329.0,364.1 330.6,357.4 332.2,353.0 333.8,348.8 335.4,345.6 337.0,340.3 338.1,341.8 339.2,344.4 340.3,345.1 341.9,346.6 343.5,348.7 345.1,351.8 346.7,351.5 348.3,352.7 349.9,355.7 351.5,353.4 353.1,349.6 354.7,347.8 356.3,346.3 357.7,345.8 359.2,346.3 360.6,347.1 361.9,348.6 363.2,347.4 364.4,346.7 365.7,346.8 367.0,346.9 368.3,347.8 369.6,347.1 370.8,347.4 372.1,348.3 373.4,347.8 374.7,347.3 376.0,346.4 377.4,347.4 378.7,348.3 380.0,346.5 381.4,345.6 382.7,344.3 384.0,344.1 385.4,343.6 386.7,342.5 388.0,343.4 389.4,343.0 390.7,343.4 392.0,342.8 393.4,343.4 394.7,345.7 395.8,345.5 396.9,345.4 398.0,345.3 399.2,344.8 400.3,345.3 401.4,345.3 402.8,343.1 404.1,343.0 405.4,342.6 406.8,342.2 408.2,341.6 409.6,341.2 411.0,343.0 412.6,346.7 414.2,350.8 415.6,353.8 417.1,358.4 418.5,360.6 419.9,363.6 421.4,367.6 422.8,372.1 424.4,374.6 426.0,376.1 427.5,363.1 429.2,341.7 430.5,339.3 431.8,336.3 433.1,337.9 434.3,338.6 435.6,338.2 437.0,338.9 438.5,340.0 439.9,342.2 441.4,343.0 443.0,344.8 444.1,345.6 445.2,346.2 446.3,347.2 447.6,346.9 449.0,347.7 450.3,348.9 451.6,348.5 453.0,348.3 454.3,347.7 455.6,348.8 457.0,349.4 458.3,348.8 459.6,349.2 460.8,349.2 462.1,349.5 463.4,349.1 464.7,348.5 466.0,349.7 467.4,350.0 468.7,349.8 470.0,348.2 471.4,346.8 472.7,346.9 474.0,345.6 475.3,345.6 476.6,345.8 477.9,346.0 479.2,346.3 480.5,345.0 481.8,345.2 483.1,346.1 484.3,346.5 485.6,346.7 486.9,345.6 488.1,346.8 489.3,348.2 490.7,347.5 492.1,347.7 493.5,347.7 494.9,350.0 496.4,350.5 497.8,350.8 499.2,352.6 500.6,354.4 502.0,356.4 503.5,353.2 504.9,351.6 506.4,349.1 507.7,347.6 509.0,346.3 510.4,345.5 511.7,345.8 513.1,345.1 514.6,344.8 516.0,344.6 517.6,348.0 519.2,350.3 520.8,353.0 522.4,355.9 523.8,356.2 525.3,356.2 526.7,356.6 528.1,357.9 529.6,357.3 531.0,356.9 532.4,354.9 533.8,354.1 535.2,352.6 536.8,347.8 538.4,344.2 540.0,340.0 541.6,334.9 543.0,332.7 544.5,332.5 545.9,331.2 547.5,332.5 549.1,333.1 550.7,337.6 552.3,340.2 553.9,344.2 555.5,348.2 556.9,351.7 558.4,353.3 559.8,355.8 561.4,361.7 563.0,367.4 564.4,372.8 565.8,378.3 567.3,381.2 568.8,362.9 570.5,345.6 572.6,339.1 574.2,340.3 575.8,340.2 577.0,341.6 578.1,342.5 579.3,344.0 580.7,343.1 582.1,342.4 583.5,342.9 585.1,343.2 586.8,343.8 588.5,350.7 589.5,373.3 590.6,393.2 592.5,385.4 594.5,369.2 595.6,363.6 596.7,357.5 597.8,407.5 599.5,496.1 600.8,453.4 602.5,398.1 603.7,374.4 605.0,422.1 606.6,465.1 608.0,427.3 610.0,372.5 611.5,342.6 613.0,325.7 614.2,326.7 615.5,329.5 616.7,332.3 618.3,336.5 619.9,339.4 621.5,341.2 623.0,343.9 624.5,343.3 625.9,343.5 627.4,343.5 628.8,345.8 630.2,346.1 631.6,347.4 633.0,348.3 634.5,349.5 635.9,349.8 637.2,347.8 638.5,347.3 639.9,345.9 641.2,344.6 642.5,343.7 643.8,343.2 645.0,343.8 646.3,342.5 647.6,341.2 648.9,341.2 650.2,341.5 651.4,342.5 652.7,342.0 654.0,341.8 655.3,342.2 656.6,341.6 657.9,341.3 659.2,340.3 660.5,340.7 661.8,342.7 663.0,343.0 664.3,343.6 665.7,344.2 667.1,346.0 668.5,347.5 669.9,347.9 671.4,349.7 672.8,350.6 674.4,349.9 676.0,347.9 677.6,346.4 679.2,343.9 680.8,343.4 682.4,342.2 684.0,344.8 685.6,345.7 687.8,351.6 689.4,350.8 691.0,349.6 692.6,349.1 694.2,351.0 695.8,348.5 697.4,346.1 698.8,344.8 700.3,345.0 701.7,343.8 703.0,343.4 704.4,343.6 705.7,344.0 707.0,344.8 708.6,344.9 710.2,346.6 711.8,348.7 713.4,351.4 714.8,351.1 716.1,352.0 717.4,352.8 718.8,352.3 720.2,352.0 721.6,351.9 723.0,353.2 724.7,356.9 726.7,347.9 728.0,344.9 729.4,342.7 730.8,341.4 732.1,340.9 733.4,341.4 734.8,340.5 736.1,340.2 737.4,339.3 738.7,339.9 740.0,340.8 741.5,340.6 742.9,341.2 744.4,341.4 746.0,343.9 747.6,344.8 749.0,348.4 750.4,351.8" fill="none" stroke="#4DBEEE" stroke-width="5.0" stroke-linejoin="round" stroke-linecap="butt" />
<polyline points="79.3,347.2 80.5,373.9 81.9,383.0 83.3,391.6 84.4,384.6 85.5,377.0 87.5,365.9" fill="none" stroke="#A2142F" stroke-width="5.0" stroke-linejoin="round" stroke-linecap="butt" />
<polyline points="89.8,364.5 91.4,375.4 92.7,377.6 93.9,381.6 95.3,381.7 96.6,378.1 98.0,376.2 99.2,374.5 100.5,373.5 101.7,372.7 102.9,370.1 104.1,370.5 105.3,371.0 106.6,369.3 107.8,367.9 109.0,365.7 110.3,365.9 111.5,367.0 112.8,365.3 114.0,364.1 115.2,362.7 116.5,361.5 117.7,361.1 119.3,356.9 121.0,356.9 122.7,362.3 124.3,366.9" fill="none" stroke="#A2142F" stroke-width="7.5" stroke-linejoin="round" stroke-linecap="butt" />
<polyline points="128.3,370.0 128.3,399.0" fill="none" stroke="#A2142F" stroke-width="4.3" stroke-linejoin="round" stroke-linecap="butt" />
<polyline points="132.0,392.0 132.0,409.5" fill="none" stroke="#A2142F" stroke-width="4.3" stroke-linejoin="round" stroke-linecap="butt" />
<polyline points="154.5,286.4 154.5,300.7" fill="none" stroke="#A2142F" stroke-width="4.3" stroke-linejoin="round" stroke-linecap="butt" />
<polyline points="199.3,290.0 199.3,296.5" fill="none" stroke="#A2142F" stroke-width="4.3" stroke-linejoin="round" stroke-linecap="butt" />
<polyline points="175.5,320.0 175.5,366.0" fill="none" stroke="#A2142F" stroke-width="4.3" stroke-linejoin="round" stroke-linecap="butt" />
<polyline points="181.0,358.0 181.0,369.0" fill="none" stroke="#A2142F" stroke-width="4.3" stroke-linejoin="round" stroke-linecap="butt" />
<polyline points="184.8,362.0 184.8,370.0" fill="none" stroke="#A2142F" stroke-width="4.3" stroke-linejoin="round" stroke-linecap="butt" />
<polyline points="189.5,358.0 189.5,371.0" fill="none" stroke="#A2142F" stroke-width="4.3" stroke-linejoin="round" stroke-linecap="butt" />
<polyline points="211.2,320.6 211.2,338.8" fill="none" stroke="#A2142F" stroke-width="4.3" stroke-linejoin="round" stroke-linecap="butt" />
<polyline points="260.9,300.3 260.9,394.3" fill="none" stroke="#A2142F" stroke-width="4.3" stroke-linejoin="round" stroke-linecap="butt" />
<polyline points="267.8,298.0 267.8,327.0" fill="none" stroke="#A2142F" stroke-width="4.3" stroke-linejoin="round" stroke-linecap="butt" />
<polyline points="327.4,325.0 327.4,337.0" fill="none" stroke="#A2142F" stroke-width="4.3" stroke-linejoin="round" stroke-linecap="butt" />
<polyline points="379.3,332.0 379.3,365.5" fill="none" stroke="#A2142F" stroke-width="4.3" stroke-linejoin="round" stroke-linecap="butt" />
<polyline points="386.2,331.0 386.2,359.0" fill="none" stroke="#A2142F" stroke-width="4.3" stroke-linejoin="round" stroke-linecap="butt" />
<polyline points="391.0,329.0 391.0,357.0" fill="none" stroke="#A2142F" stroke-width="4.3" stroke-linejoin="round" stroke-linecap="butt" />
<polyline points="397.8,328.0 397.8,365.5" fill="none" stroke="#A2142F" stroke-width="4.3" stroke-linejoin="round" stroke-linecap="butt" />
<polyline points="401.6,350.5 401.6,375.0" fill="none" stroke="#A2142F" stroke-width="4.3" stroke-linejoin="round" stroke-linecap="butt" />
<polyline points="643.6,306.7 643.6,333.4" fill="none" stroke="#A2142F" stroke-width="4.3" stroke-linejoin="round" stroke-linecap="butt" />
<polyline points="316.0,241.0 316.5,199.5 317.5,226.0 322.0,228.0 321.5,235.0" fill="none" stroke="#A2142F" stroke-width="4.3" stroke-linejoin="round" stroke-linecap="butt" />
<polyline points="482.2,210.3 482.4,183.0 486.3,182.2" fill="none" stroke="#A2142F" stroke-width="4.3" stroke-linejoin="round" stroke-linecap="butt" />
<polyline points="502.6,219.2 503.0,195.0 504.8,178.0 505.6,175.5" fill="none" stroke="#A2142F" stroke-width="4.3" stroke-linejoin="round" stroke-linecap="butt" />
<circle cx="507.8" cy="173" r="2.5" fill="#A2142F"/>
<polyline points="567.7,224.4 568.7,189.7 570.8,161.5 572.8,154.5 575.9,156.5 578.5,162.8 582.3,162.8 586.0,160.0 588.2,164.0 589.2,187.0" fill="none" stroke="#A2142F" stroke-width="4.3" stroke-linejoin="round" stroke-linecap="butt" />
<polyline points="596.4,153.8 597.5,230.0 599.8,319.5 601.5,250.0 602.8,197.4 604.5,240.0 606.6,290.0 608.5,230.0 610.0,180.0 611.8,152.0 614.4,148.5 617.0,155.0" fill="none" stroke="#A2142F" stroke-width="4.3" stroke-linejoin="round" stroke-linecap="butt" />
<polyline points="687.0,219.2 687.0,176.0 688.5,174.4 690.0,174.4 692.6,179.5 695.1,180.8 697.7,173.0 701.5,170.5 705.4,171.0 709.2,171.8 713.0,179.5 716.9,177.0 720.8,174.4 724.6,179.5 726.7,179.5 728.5,169.2 729.7,164.9" fill="none" stroke="#A2142F" stroke-width="4.3" stroke-linejoin="round" stroke-linecap="butt" />
<polygon points="596.2,224 610.5,224 608.8,288.5 604.7,290.5 603.4,284 602.3,300 602,319 599.9,321 597.9,319" fill="#A2142F"/>
<polyline points="80.3,332.2 80.8,352.9 82.4,367.2 83.2,371.1 85.2,356.4 86.8,340.7 87.8,340.1 89.8,356.7 91.4,367.6 92.7,369.8 93.9,373.8 95.3,373.9 96.6,370.3 98.0,368.4 99.2,366.7 100.5,365.7 101.7,364.9 102.9,362.3 104.1,362.7 105.3,363.2 106.6,361.5 107.8,360.1 109.0,357.9 110.3,358.1 111.5,359.2 112.8,357.5 114.0,356.3 115.2,354.9 116.5,353.7 117.7,353.3 119.3,349.1 121.0,349.1 122.7,354.5 124.3,359.1 125.5,366.2 126.7,375.6 127.9,384.4 129.2,391.0 130.3,395.0 131.4,398.7 133.0,385.5 134.6,372.0 136.0,366.2 137.4,370.5 138.9,374.4 140.2,374.0 141.6,370.5 142.9,368.1 144.2,367.3 145.3,365.0 146.4,363.4 148.0,363.4 149.6,365.2 151.7,368.1 153.1,365.9 154.6,364.8 156.0,365.2 157.6,361.6 159.2,357.0 160.8,356.7 162.4,354.9 163.8,354.6 165.3,354.6 166.7,357.3 168.1,355.3 169.5,353.7 170.9,352.2 172.2,354.2 173.6,355.7 175.0,355.1 176.3,356.8 177.6,356.2 178.9,355.6 180.3,353.7 181.6,352.2 182.9,354.8 184.3,354.8 185.7,354.7 187.0,353.6 188.4,353.0 189.8,353.2 191.2,351.0 192.5,351.9 193.9,352.0 195.2,352.4 196.6,350.6 198.0,348.9 199.5,350.7 200.9,350.8 202.4,352.0 204.0,351.5 205.1,356.2 206.2,360.2 207.3,362.6 208.9,369.7 210.5,376.7 211.8,374.1 213.0,368.5 214.2,362.2 215.5,358.7 216.8,363.0 218.0,368.0 219.3,371.8 220.6,376.6 221.8,384.0 223.1,389.1 224.3,379.8 225.5,371.3 226.7,362.9 228.1,361.7 229.5,357.0 230.7,356.9 231.8,358.3 233.0,359.1 234.2,361.2 235.8,363.8 237.4,367.2 239.0,370.7 240.6,371.9 242.2,379.3 243.8,388.9 245.4,399.9 247.0,407.6 249.2,409.9 250.8,406.4 252.4,400.6 254.5,374.3 256.7,357.7 258.8,351.5 260.2,353.6 261.6,356.7 263.0,357.5 264.1,358.5 265.2,358.5 266.3,359.3 267.9,364.8 269.5,367.8 270.9,363.9 272.3,359.4 273.6,357.8 274.8,353.8 276.2,354.6 277.7,358.0 279.1,359.4 280.5,357.7 282.0,354.7 283.4,354.0 284.8,355.5 286.2,356.7 287.6,360.0 289.1,361.9 290.5,364.0 292.0,362.7 293.4,365.1 294.8,366.4 296.2,368.1 297.5,369.1 298.9,370.8 300.2,374.4 301.5,374.4 302.7,371.1 303.8,368.4 305.0,366.3 306.6,367.1 308.2,364.1 309.8,364.5 311.4,363.7 313.0,367.1 314.6,368.6 316.8,382.1 318.9,395.3 321.0,401.0 323.2,398.0 325.3,382.2 327.4,370.4 329.0,366.8 330.6,360.1 332.2,355.7 333.8,351.5 335.4,348.3 337.0,343.0 338.1,344.5 339.2,347.1 340.3,347.8 341.9,349.5 343.5,351.8 345.1,355.0 346.7,354.8 348.3,356.1 349.9,359.3 351.5,357.2 353.1,353.5 354.7,351.9 356.3,350.5 357.7,350.2 359.2,350.7 360.6,351.7 361.9,353.2 363.2,352.0 364.4,351.3 365.7,351.4 367.0,351.5 368.3,352.4 369.6,351.7 370.8,352.0 372.1,352.9 373.4,352.4 374.7,351.9 376.0,351.0 377.4,352.0 378.7,352.9 380.0,351.1 381.4,350.2 382.7,348.9 384.0,348.7 385.4,348.2 386.7,347.1 388.0,348.0 389.4,347.6 390.7,348.0 392.0,347.4 393.4,348.0 394.7,350.3 395.8,350.1 396.9,350.0 398.0,349.9 399.2,349.4 400.3,349.9 401.4,349.9 402.8,347.7 404.1,347.6 405.4,347.2 406.8,346.8 408.2,346.2 409.6,345.8 411.0,347.6 412.6,351.3 414.2,355.4 415.6,358.4 417.1,363.0 418.5,365.2 419.9,368.2 421.4,372.2 422.8,376.6 424.4,379.2 426.0,380.7 427.5,367.7 429.2,346.3 430.5,343.9 431.8,340.9 433.1,342.5 434.3,343.2 435.6,342.8 437.0,343.5 438.5,344.6 439.9,346.8 441.4,347.6 443.0,349.4 444.1,350.2 445.2,350.8 446.3,351.8 447.6,351.5 449.0,352.3 450.3,353.5 451.6,353.1 453.0,352.9 454.3,352.3 455.6,353.4 457.0,354.0 458.3,353.4 459.6,353.8 460.8,353.8 462.1,354.1 463.4,353.7 464.7,353.1 466.0,354.3 467.4,354.6 468.7,354.4 470.0,352.8 471.4,351.4 472.7,351.5 474.0,350.2 475.3,350.2 476.6,350.4 477.9,350.6 479.2,350.9 480.5,349.6 481.8,349.8 483.1,350.7 484.3,351.1 485.6,351.3 486.9,350.2 488.1,351.4 489.3,352.8 490.7,352.1 492.1,352.3 493.5,352.3 494.9,354.6 496.4,355.1 497.8,355.4 499.2,357.2 500.6,359.0 502.0,361.0 503.5,357.8 504.9,356.2 506.4,353.7 507.7,352.2 509.0,350.9 510.4,350.1 511.7,350.4 513.1,349.7 514.6,349.4 516.0,349.2 517.6,352.6 519.2,354.9 520.8,357.6 522.4,360.5 523.8,360.8 525.3,360.8 526.7,361.2 528.1,362.5 529.6,361.9 531.0,361.5 532.4,359.5 533.8,358.7 535.2,357.2 536.8,352.4 538.4,348.8 540.0,344.6 541.6,339.5 543.0,337.3 544.5,337.1 545.9,335.8 547.5,337.1 549.1,337.7 550.7,342.2 552.3,344.8 553.9,348.8 555.5,352.8 556.9,356.3 558.4,357.9 559.8,360.4 561.4,366.3 563.0,372.0 564.4,377.3 565.8,382.7 567.3,385.8 568.8,367.5 570.5,350.2 572.6,343.6 574.2,344.7 575.8,344.6 577.0,346.0 578.1,346.9 579.3,348.4 580.7,347.5 582.1,346.8 583.5,347.3 585.1,347.6 586.8,348.1 588.5,353.7 589.5,377.7 590.6,397.1 592.5,390.0 594.5,373.8 595.6,368.2 596.7,362.1 597.8,411.4 599.5,500.3 600.8,458.0 602.5,402.7 603.7,378.8 605.0,426.7 606.6,469.1 608.0,431.9 610.0,377.1 611.5,347.2 613.0,330.3 614.2,330.7 615.5,332.9 616.7,335.1 618.3,339.3 619.9,342.3 621.5,343.4 623.0,345.4 624.5,344.8 625.9,345.0 627.4,345.0 628.8,347.3 630.2,347.6 631.6,348.9 633.0,349.8 634.5,351.0 635.9,351.3 637.2,349.3 638.5,348.8 639.9,347.4 641.2,346.1 642.5,345.2 643.8,344.7 645.0,345.3 646.3,344.0 647.6,342.7 648.9,342.7 650.2,343.0 651.4,344.0 652.7,343.5 654.0,343.3 655.3,343.7 656.6,343.1 657.9,342.8 659.2,341.8 660.5,342.2 661.8,344.2 663.0,344.5 664.3,345.1 665.7,345.7 667.1,347.5 668.5,349.0 669.9,349.4 671.4,351.2 672.8,352.1 674.4,351.4 676.0,349.4 677.6,347.9 679.2,345.4 680.8,344.9 682.4,343.7 684.0,346.3 685.6,347.2 687.8,353.1 689.4,352.3 691.0,351.1 692.6,350.6 694.2,352.5 695.8,350.0 697.4,347.6 698.8,346.3 700.3,346.5 701.7,345.3 703.0,344.9 704.4,345.1 705.7,345.5 707.0,346.3 708.6,346.4 710.2,348.1 711.8,350.2 713.4,352.9 714.8,352.6 716.1,353.5 717.4,354.3 718.8,353.8 720.2,353.5 721.6,353.4 723.0,354.7 724.7,358.4 726.7,349.4 728.0,346.4 729.4,344.2 730.8,342.9 732.1,342.4 733.4,342.9 734.8,342.0 736.1,341.7 737.4,340.8 738.7,341.4 740.0,342.3 741.5,342.1 742.9,342.7 744.4,342.9 746.0,345.4 747.6,346.3 749.0,349.9 750.4,353.3" fill="none" stroke="#0072BD" stroke-width="5.0" stroke-linejoin="round" stroke-linecap="butt" />
<polyline points="80.3,331.2 80.8,345.7 82.4,360.0 83.2,363.9 85.2,349.2 86.8,333.5 87.8,332.9 89.8,349.5 91.4,360.4 92.7,362.6 93.9,366.6 95.3,366.7 96.6,363.1 98.0,361.2 99.2,359.5 100.5,358.5 101.7,357.7 102.9,355.1 104.1,355.5 105.3,356.0 106.6,354.3 107.8,352.9 109.0,350.7 110.3,350.9 111.5,352.0 112.8,350.3 114.0,349.1 115.2,347.7 116.5,346.5 117.7,346.1 119.3,341.9 121.0,341.9 122.7,347.3 124.3,351.9 125.5,359.0 126.7,368.4 127.9,377.2 129.2,383.8 130.3,387.8 131.4,391.5 133.0,378.3 134.6,364.8 136.0,359.0 137.4,363.3 138.9,367.2 140.2,366.8 141.6,363.3 142.9,360.9 144.2,360.1 145.3,357.8 146.4,356.2 148.0,356.2 149.6,358.0 151.7,360.9 153.1,358.7 154.6,357.6 156.0,358.0 157.6,354.4 159.2,349.8 160.8,349.5 162.4,347.7 163.8,347.4 165.3,347.4 166.7,350.1 168.1,348.1 169.5,346.5 170.9,345.0 172.2,347.0 173.6,348.5 175.0,347.9 176.3,349.6 177.6,349.0 178.9,348.4 180.3,346.5 181.6,345.0 182.9,347.6 184.3,347.6 185.7,347.5 187.0,346.4 188.4,345.8 189.8,346.0 191.2,343.8 192.5,344.7 193.9,344.8 195.2,345.2 196.6,343.4 198.0,341.7 199.5,343.5 200.9,343.6 202.4,344.8 204.0,344.3 205.1,349.0 206.2,353.0 207.3,355.4 208.9,362.5 210.5,369.5 211.8,366.9 213.0,361.3 214.2,355.0 215.5,351.5 216.8,355.8 218.0,360.8 219.3,364.6 220.6,369.4 221.8,376.8 223.1,381.9 224.3,372.6 225.5,364.1 226.7,355.7 228.1,354.5 229.5,349.8 230.7,349.7 231.8,351.1 233.0,351.9 234.2,354.0 235.8,356.6 237.4,360.0 239.0,363.5 240.6,364.7 242.2,372.1 243.8,381.7 245.4,392.7 247.0,400.4 249.2,402.7 250.8,399.2 252.4,393.4 254.5,367.1 256.7,350.5 258.8,344.3 260.2,346.4 261.6,349.5 263.0,350.3 264.1,351.3 265.2,351.3 266.3,352.1 267.9,357.6 269.5,360.6 270.9,356.7 272.3,352.2 273.6,350.6 274.8,346.6 276.2,347.4 277.7,350.8 279.1,352.2 280.5,350.5 282.0,347.5 283.4,346.8 284.8,348.3 286.2,349.5 287.6,352.8 289.1,354.7 290.5,356.8 292.0,355.5 293.4,357.9 294.8,359.2 296.2,360.9 297.5,361.9 298.9,363.6 300.2,367.2 301.5,367.2 302.7,363.9 303.8,361.2 305.0,359.1 306.6,359.9 308.2,356.9 309.8,357.3 311.4,356.5 313.0,359.9 314.6,361.4 316.8,374.9 318.9,388.1 321.0,393.8 323.2,390.8 325.3,375.0 327.4,363.2 329.0,359.6 330.6,352.9 332.2,348.5 333.8,344.3 335.4,341.1 337.0,335.8 338.1,337.3 339.2,339.9 340.3,340.6 341.9,342.1 343.5,344.2 345.1,347.3 346.7,346.9 348.3,348.0 349.9,351.0 351.5,348.7 353.1,344.9 354.7,343.1 356.3,341.5 357.7,341.1 359.2,341.5 360.6,342.3 361.9,343.8 363.2,342.6 364.4,341.9 365.7,342.0 367.0,342.1 368.3,343.0 369.6,342.3 370.8,342.6 372.1,343.5 373.4,343.0 374.7,342.5 376.0,341.6 377.4,342.6 378.7,343.5 380.0,341.7 381.4,340.8 382.7,339.5 384.0,339.3 385.4,338.8 386.7,337.7 388.0,338.6 389.4,338.2 390.7,338.6 392.0,338.0 393.4,338.6 394.7,340.9 395.8,340.7 396.9,340.6 398.0,340.5 399.2,340.0 400.3,340.5 401.4,340.5 402.8,338.3 404.1,338.2 405.4,337.8 406.8,337.4 408.2,336.8 409.6,336.4 411.0,338.2 412.6,341.9 414.2,346.0 415.6,349.0 417.1,353.6 418.5,355.8 419.9,358.9 421.4,362.9 422.8,367.4 424.4,369.9 426.0,371.3 427.5,358.3 429.2,336.9 430.5,334.5 431.8,331.5 433.1,333.1 434.3,333.8 435.6,333.4 437.0,334.1 438.5,335.2 439.9,337.4 441.4,338.2 443.0,340.0 444.1,340.8 445.2,341.4 446.3,342.4 447.6,342.1 449.0,342.9 450.3,344.1 451.6,343.7 453.0,343.5 454.3,342.9 455.6,344.0 457.0,344.6 458.3,344.0 459.6,344.4 460.8,344.4 462.1,344.7 463.4,344.3 464.7,343.7 466.0,344.9 467.4,345.2 468.7,345.0 470.0,343.4 471.4,342.0 472.7,342.1 474.0,340.8 475.3,340.8 476.6,341.0 477.9,341.2 479.2,341.5 480.5,340.2 481.8,340.4 483.1,341.3 484.3,341.7 485.6,341.9 486.9,340.8 488.1,342.0 489.3,343.4 490.7,342.7 492.1,342.9 493.5,342.9 494.9,345.2 496.4,345.7 497.8,346.0 499.2,347.8 500.6,349.6 502.0,351.6 503.5,348.4 504.9,346.8 506.4,344.3 507.7,342.8 509.0,341.5 510.4,340.7 511.7,341.0 513.1,340.3 514.6,340.0 516.0,339.8 517.6,343.2 519.2,345.5 520.8,348.2 522.4,351.1 523.8,351.4 525.3,351.4 526.7,351.8 528.1,353.1 529.6,352.5 531.0,352.1 532.4,350.1 533.8,349.3 535.2,347.8 536.8,343.0 538.4,339.4 540.0,335.2 541.6,330.1 543.0,327.9 544.5,327.7 545.9,326.4 547.5,327.7 549.1,328.3 550.7,332.8 552.3,335.4 553.9,339.4 555.5,343.4 556.9,346.9 558.4,348.5 559.8,351.0 561.4,356.9 563.0,362.6 564.4,368.3 565.8,374.0 567.3,376.4 568.8,358.1 570.5,340.8 572.6,334.9 574.2,336.0 575.8,336.0 577.0,337.4 578.1,338.3 579.3,339.8 580.7,338.9 582.1,338.2 583.5,338.7 585.1,339.1 586.8,339.8 588.5,349.2 589.5,369.0 590.6,389.7 592.5,380.6 594.5,364.4 595.6,358.9 596.7,352.9 597.8,404.2 599.5,492.3 600.8,448.6 602.5,393.3 603.7,370.1 605.0,417.3 606.6,461.6 608.0,422.5 610.0,367.7 611.5,337.8 613.0,321.1 614.2,322.6 615.5,325.8 616.7,329.2 618.3,333.2 619.9,336.1 621.5,336.2 623.0,337.3 624.5,336.8 625.9,337.0 627.4,337.1 628.8,339.1 630.2,339.1 631.6,340.1 633.0,341.0 634.5,342.2 635.9,342.5 637.2,340.6 638.5,340.2 639.9,338.8 641.2,337.6 642.5,336.7 643.8,336.1 645.0,336.6 646.3,335.3 647.6,333.9 648.9,334.1 650.2,334.4 651.4,335.5 652.7,335.1 654.0,335.0 655.3,335.4 656.6,334.8 657.9,334.5 659.2,333.5 660.5,333.9 661.8,335.7 663.0,335.9 664.3,336.3 665.7,336.9 667.1,338.7 668.5,340.2 669.9,340.6 671.4,342.4 672.8,343.3 674.4,342.7 676.0,340.9 677.6,339.4 679.2,336.9 680.8,336.3 682.4,334.9 684.0,337.5 685.6,338.4 687.8,344.3 689.4,343.5 691.0,342.3 692.6,341.8 694.2,343.7 695.8,341.2 697.4,338.8 698.8,337.5 700.3,337.8 701.7,336.6 703.0,336.3 704.4,336.5 705.7,337.0 707.0,337.9 708.6,337.9 710.2,339.6 711.8,341.7 713.4,344.4 714.8,344.1 716.1,345.0 717.4,345.8 718.8,345.3 720.2,344.9 721.6,344.7 723.0,345.9 724.7,349.6 726.7,340.6 728.0,337.6 729.4,335.4 730.8,334.3 732.1,333.9 733.4,334.6 734.8,333.8 736.1,333.5 737.4,332.6 738.7,333.2 740.0,334.1 741.5,333.9 742.9,334.5 744.4,334.6 746.0,337.0 747.6,337.8 749.0,341.7 750.4,345.4" fill="none" stroke="#D95319" stroke-width="5.0" stroke-linejoin="round" stroke-linecap="butt" />
<polyline points="80.3,337.2 80.8,350.7 82.4,365.0 83.2,368.9 85.2,354.2 86.8,338.5 87.8,337.9 89.8,354.5 91.4,365.4 92.7,367.6 93.9,371.6 95.3,371.7 96.6,368.1 98.0,366.2 99.2,364.5 100.5,363.5 101.7,362.7 102.9,360.1 104.1,360.5 105.3,361.0 106.6,359.3 107.8,357.9 109.0,355.7 110.3,355.9 111.5,357.0 112.8,355.3 114.0,354.1 115.2,352.7 116.5,351.5 117.7,351.1 119.3,346.9 121.0,346.9 122.7,352.3 124.3,356.9 125.5,364.0 126.7,373.4 127.9,382.2 129.2,388.8 130.3,392.8 131.4,396.5 133.0,383.3 134.6,369.8 136.0,364.0 137.4,368.3 138.9,372.2 140.2,371.8 141.6,368.3 142.9,365.9 144.2,365.1 145.3,362.8 146.4,361.2 148.0,361.2 149.6,363.0 151.7,365.9 153.1,363.7 154.6,362.6 156.0,363.0 157.6,359.4 159.2,354.8 160.8,354.5 162.4,352.7 163.8,352.4 165.3,352.4 166.7,355.1 168.1,353.1 169.5,351.5 170.9,350.0 172.2,352.0 173.6,353.5 175.0,352.9 176.3,354.6 177.6,354.0 178.9,353.4 180.3,351.5 181.6,350.0 182.9,352.6 184.3,352.6 185.7,352.5 187.0,351.4 188.4,350.8 189.8,351.0 191.2,348.8 192.5,349.7 193.9,349.8 195.2,350.2 196.6,348.4 198.0,346.7 199.5,348.5 200.9,348.6 202.4,349.8 204.0,349.3 205.1,354.0 206.2,358.0 207.3,360.4 208.9,367.5 210.5,374.5 211.8,371.9 213.0,366.3 214.2,360.0 215.5,356.5 216.8,360.8 218.0,365.8 219.3,369.6 220.6,374.4 221.8,381.8 223.1,386.9 224.3,377.6 225.5,369.1 226.7,360.7 228.1,359.5 229.5,354.8 230.7,354.7 231.8,356.1 233.0,356.9 234.2,359.0 235.8,361.6 237.4,365.0 239.0,368.5 240.6,369.7 242.2,377.1 243.8,386.7 245.4,397.7 247.0,405.4 249.2,407.7 250.8,404.2 252.4,398.4 254.5,372.1 256.7,355.5 258.8,349.3 260.2,351.4 261.6,354.5 263.0,355.3 264.1,356.3 265.2,356.3 266.3,357.1 267.9,362.6 269.5,365.6 270.9,361.7 272.3,357.2 273.6,355.6 274.8,351.6 276.2,352.4 277.7,355.8 279.1,357.2 280.5,355.5 282.0,352.5 283.4,351.8 284.8,353.3 286.2,354.5 287.6,357.8 289.1,359.7 290.5,361.8 292.0,360.5 293.4,362.9 294.8,364.2 296.2,365.9 297.5,366.9 298.9,368.6 300.2,372.2 301.5,372.2 302.7,368.9 303.8,366.2 305.0,364.1 306.6,364.9 308.2,361.9 309.8,362.3 311.4,361.5 313.0,364.9 314.6,366.4 316.8,379.9 318.9,393.1 321.0,398.8 323.2,395.8 325.3,380.0 327.4,368.2 329.0,364.6 330.6,357.9 332.2,353.5 333.8,349.3 335.4,346.1 337.0,340.8 338.1,342.3 339.2,344.9 340.3,345.6 341.9,347.3 343.5,349.6 345.1,352.8 346.7,352.6 348.3,353.9 349.9,357.1 351.5,355.0 353.1,351.3 354.7,349.7 356.3,348.3 357.7,348.0 359.2,348.5 360.6,349.5 361.9,351.0 363.2,349.8 364.4,349.1 365.7,349.2 367.0,349.3 368.3,350.2 369.6,349.5 370.8,349.8 372.1,350.7 373.4,350.2 374.7,349.7 376.0,348.8 377.4,349.8 378.7,350.7 380.0,348.9 381.4,348.0 382.7,346.7 384.0,346.5 385.4,346.0 386.7,344.9 388.0,345.8 389.4,345.4 390.7,345.8 392.0,345.2 393.4,345.8 394.7,348.1 395.8,347.9 396.9,347.8 398.0,347.7 399.2,347.2 400.3,347.7 401.4,347.7 402.8,345.5 404.1,345.4 405.4,345.0 406.8,344.6 408.2,344.0 409.6,343.6 411.0,345.4 412.6,349.1 414.2,353.2 415.6,356.2 417.1,360.8 418.5,363.0 419.9,366.0 421.4,370.0 422.8,374.4 424.4,377.0 426.0,378.5 427.5,365.5 429.2,344.1 430.5,341.7 431.8,338.7 433.1,340.3 434.3,341.0 435.6,340.6 437.0,341.3 438.5,342.4 439.9,344.6 441.4,345.4 443.0,347.2 444.1,348.0 445.2,348.6 446.3,349.6 447.6,349.3 449.0,350.1 450.3,351.3 451.6,350.9 453.0,350.7 454.3,350.1 455.6,351.2 457.0,351.8 458.3,351.2 459.6,351.6 460.8,351.6 462.1,351.9 463.4,351.5 464.7,350.9 466.0,352.1 467.4,352.4 468.7,352.2 470.0,350.6 471.4,349.2 472.7,349.3 474.0,348.0 475.3,348.0 476.6,348.2 477.9,348.4 479.2,348.7 480.5,347.4 481.8,347.6 483.1,348.5 484.3,348.9 485.6,349.1 486.9,348.0 488.1,349.2 489.3,350.6 490.7,349.9 492.1,350.1 493.5,350.1 494.9,352.4 496.4,352.9 497.8,353.2 499.2,355.0 500.6,356.8 502.0,358.8 503.5,355.6 504.9,354.0 506.4,351.5 507.7,350.0 509.0,348.7 510.4,347.9 511.7,348.2 513.1,347.5 514.6,347.2 516.0,347.0 517.6,350.4 519.2,352.7 520.8,355.4 522.4,358.3 523.8,358.6 525.3,358.6 526.7,359.0 528.1,360.3 529.6,359.7 531.0,359.3 532.4,357.3 533.8,356.5 535.2,355.0 536.8,350.2 538.4,346.6 540.0,342.4 541.6,337.3 543.0,335.1 544.5,334.9 545.9,333.6 547.5,334.9 549.1,335.5 550.7,340.0 552.3,342.6 553.9,346.6 555.5,350.6 556.9,354.1 558.4,355.7 559.8,358.2 561.4,364.1 563.0,369.8 564.4,375.1 565.8,380.5 567.3,383.6 568.8,365.3 570.5,348.0 572.6,341.4 574.2,342.5 575.8,342.4 577.0,343.8 578.1,344.7 579.3,346.2 580.7,345.3 582.1,344.6 583.5,345.1 585.1,345.4 586.8,345.9 588.5,351.5 589.5,375.5 590.6,394.9 592.5,387.8 594.5,371.6 595.6,366.0 596.7,359.9 597.8,409.2 599.5,498.1 600.8,455.8 602.5,400.5 603.7,376.6 605.0,424.5 606.6,466.9 608.0,429.7 610.0,374.9 611.5,345.0 613.0,328.1 614.2,328.8 615.5,331.3 616.7,333.9 618.3,338.1 619.9,341.1 621.5,342.2 623.0,344.2 624.5,343.6 625.9,343.8 627.4,343.8 628.8,346.1 630.2,346.4 631.6,347.7 633.0,348.6 634.5,349.8 635.9,350.1 637.2,348.1 638.5,347.6 639.9,346.2 641.2,344.9 642.5,344.0 643.8,343.5 645.0,344.1 646.3,342.8 647.6,341.5 648.9,341.5 650.2,341.8 651.4,342.8 652.7,342.3 654.0,342.1 655.3,342.5 656.6,341.9 657.9,341.6 659.2,340.6 660.5,341.0 661.8,343.0 663.0,343.3 664.3,343.9 665.7,344.5 667.1,346.3 668.5,347.8 669.9,348.2 671.4,350.0 672.8,350.9 674.4,350.2 676.0,348.2 677.6,346.7 679.2,344.2 680.8,343.7 682.4,342.5 684.0,345.1 685.6,346.0 687.8,351.9 689.4,351.1 691.0,349.9 692.6,349.4 694.2,351.3 695.8,348.8 697.4,346.4 698.8,345.1 700.3,345.3 701.7,344.1 703.0,343.7 704.4,343.9 705.7,344.3 707.0,345.1 708.6,345.2 710.2,346.9 711.8,349.0 713.4,351.7 714.8,351.4 716.1,352.3 717.4,353.1 718.8,352.6 720.2,352.3 721.6,352.2 723.0,353.5 724.7,357.2 726.7,348.2 728.0,345.2 729.4,343.0 730.8,341.7 732.1,341.2 733.4,341.7 734.8,340.8 736.1,340.5 737.4,339.6 738.7,340.2 740.0,341.1 741.5,340.9 742.9,341.5 744.4,341.7 746.0,344.2 747.6,345.1 749.0,348.7 750.4,352.1" fill="none" stroke="#EDB120" stroke-width="5.6" stroke-linejoin="round" stroke-linecap="butt" />
</g>
<text transform="translate(78.80,571.60) scale(0.932,1)" text-anchor="middle" font-size="21.6">0</text><text transform="translate(209.29,571.60) scale(0.932,1)" text-anchor="middle" font-size="21.6">500</text><text transform="translate(339.78,571.60) scale(0.932,1)" text-anchor="middle" font-size="21.6">1000</text><text transform="translate(470.27,571.60) scale(0.932,1)" text-anchor="middle" font-size="21.6">1500</text><text transform="translate(600.76,571.60) scale(0.932,1)" text-anchor="middle" font-size="21.6">2000</text><text transform="translate(731.25,571.60) scale(0.932,1)" text-anchor="middle" font-size="21.6">2500</text><text transform="translate(71.60,550.60) scale(0.932,1)" text-anchor="end" font-size="21.6">−40</text><text transform="translate(71.60,497.75) scale(0.932,1)" text-anchor="end" font-size="21.6">−30</text><text transform="translate(71.60,444.90) scale(0.932,1)" text-anchor="end" font-size="21.6">−20</text><text transform="translate(71.60,392.05) scale(0.932,1)" text-anchor="end" font-size="21.6">−10</text><text transform="translate(70.00,339.20) scale(0.932,1)" text-anchor="end" font-size="21.6">0</text><text transform="translate(70.00,286.35) scale(0.932,1)" text-anchor="end" font-size="21.6">10</text><text transform="translate(70.00,233.50) scale(0.932,1)" text-anchor="end" font-size="21.6">20</text><text transform="translate(70.00,180.65) scale(0.932,1)" text-anchor="end" font-size="21.6">30</text><text transform="translate(70.00,127.80) scale(0.932,1)" text-anchor="end" font-size="21.6">40</text><text transform="translate(70.00,74.95) scale(0.932,1)" text-anchor="end" font-size="21.6">50</text><text transform="translate(70.00,22.10) scale(0.932,1)" text-anchor="end" font-size="21.6">60</text><text transform="translate(414.50,601.80) scale(1.03,1)" text-anchor="middle" font-size="21.8">Epoch</text><text transform="translate(25.80,277.50) rotate(-90) scale(0.985,1)" text-anchor="middle" font-size="22.8">Leftover term [m]</text>
<g><rect x="89.8" y="22.8" width="145.5" height="258.2" fill="#fff" stroke="#3a3a3a" stroke-width="1.2"/><line x1="95.8" y1="38.0" x2="158.3" y2="38.0" stroke="#0072BD" stroke-width="4.3"/><text fill="#1c1c1c" transform="translate(195.20,45.50) scale(0.995,1)" text-anchor="middle" font-size="18.6">PRN 2</text><line x1="95.8" y1="63.3" x2="158.3" y2="63.3" stroke="#D95319" stroke-width="4.3"/><text fill="#1c1c1c" transform="translate(195.20,70.80) scale(0.995,1)" text-anchor="middle" font-size="18.6">PRN 7</text><line x1="95.8" y1="88.6" x2="158.3" y2="88.6" stroke="#EDB120" stroke-width="4.3"/><text fill="#1c1c1c" transform="translate(195.20,96.10) scale(0.995,1)" text-anchor="middle" font-size="18.6">PRN 8</text><line x1="95.8" y1="113.9" x2="158.3" y2="113.9" stroke="#7E2F8E" stroke-width="4.3"/><text fill="#1c1c1c" transform="translate(195.20,121.40) scale(0.995,1)" text-anchor="middle" font-size="18.6">PRN 10</text><line x1="95.8" y1="139.2" x2="158.3" y2="139.2" stroke="#77AC30" stroke-width="4.3"/><text fill="#1c1c1c" transform="translate(195.20,146.70) scale(0.995,1)" text-anchor="middle" font-size="18.6">PRN 15</text><line x1="95.8" y1="164.5" x2="158.3" y2="164.5" stroke="#4DBEEE" stroke-width="4.3"/><text fill="#1c1c1c" transform="translate(195.20,172.00) scale(0.995,1)" text-anchor="middle" font-size="18.6">PRN 16</text><line x1="95.8" y1="189.8" x2="158.3" y2="189.8" stroke="#A2142F" stroke-width="4.3"/><text fill="#1c1c1c" transform="translate(195.20,197.30) scale(0.995,1)" text-anchor="middle" font-size="18.6">PRN 18</text><line x1="95.8" y1="215.1" x2="158.3" y2="215.1" stroke="#0072BD" stroke-width="4.3"/><text fill="#1c1c1c" transform="translate(195.20,222.60) scale(0.995,1)" text-anchor="middle" font-size="18.6">PRN 23</text><line x1="95.8" y1="240.4" x2="158.3" y2="240.4" stroke="#D95319" stroke-width="4.3"/><text fill="#1c1c1c" transform="translate(195.20,247.90) scale(0.995,1)" text-anchor="middle" font-size="18.6">PRN 26</text><line x1="95.8" y1="265.7" x2="158.3" y2="265.7" stroke="#EDB120" stroke-width="4.3"/><text fill="#1c1c1c" transform="translate(195.20,273.20) scale(0.995,1)" text-anchor="middle" font-size="18.6">PRN 27</text></g>
</svg>
</body></html>
